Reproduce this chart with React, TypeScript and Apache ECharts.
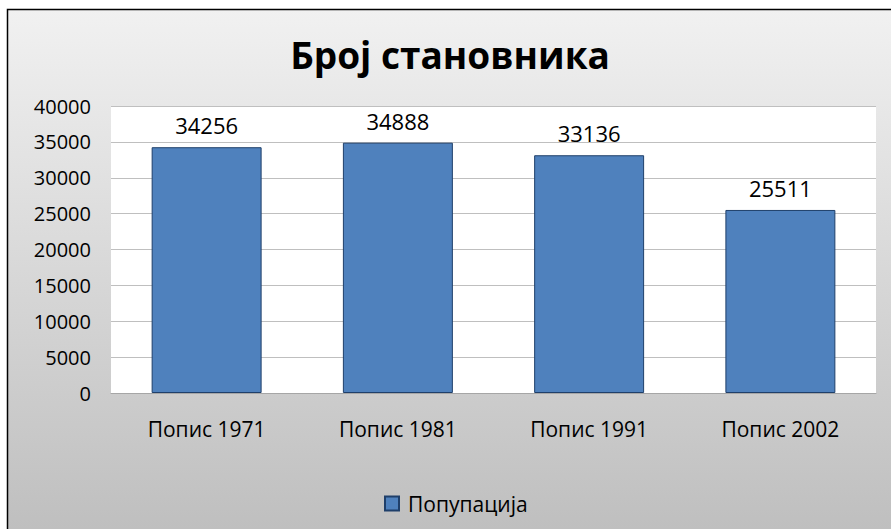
import React, { useEffect, useRef } from "react";
import * as echarts from "echarts";

const titleText = "Број становника";
const seriesName = "Попупација";
const categories = ["Попис 1971", "Попис 1981", "Попис 1991", "Попис 2002"];
const population = [34256, 34888, 33136, 25511];
const yMin = 0;
const yMax = 40000;
const yStep = 5000;

export default function App() {
  const ref = useRef<HTMLDivElement>(null);
  useEffect(() => {
    document.body.style.margin = "0";
    const chart = echarts.init(ref.current!, null, { renderer: "svg" });
    const font = "Open Sans";
    chart.setOption({
      animation: false,
      textStyle: { fontFamily: font },
      graphic: [
        {
          type: "rect",
          z: -10,
          shape: { x: 7.5, y: 9.5, width: 900, height: 540 },
          style: {
            fill: new echarts.graphic.LinearGradient(0, 0, 0, 1, [
              { offset: 0, color: "#f1f1f1" },
              { offset: 1, color: "#bdbdbd" },
            ]),
            stroke: "#000",
            lineWidth: 1.5,
          },
          silent: true,
        },
      ],
      title: {
        text: titleText,
        left: 445,
        textAlign: "center",
        top: 31,
        textStyle: { fontFamily: font, fontSize: 37, fontWeight: "bold", color: "#000" },
      },
      legend: {
        data: [seriesName],
        left: 379,
        top: 488,
        icon: "rect",
        itemWidth: 14,
        itemHeight: 14,
        itemGap: 9,
        textStyle: { fontFamily: font, fontSize: 21, color: "#000", padding: [0, 0, 0, 4] },
      },
      grid: {
        left: 111,
        right: 15,
        top: 106,
        bottom: 136,
        show: true,
        backgroundColor: "#ffffff",
        borderWidth: 0,
      },
      xAxis: {
        type: "category",
        data: categories,
        axisTick: { show: false },
        axisLine: { show: true, lineStyle: { color: "#a6a6a6", width: 1 } },
        axisLabel: { color: "#000", fontSize: 21, margin: 25, fontFamily: font },
      },
      yAxis: {
        type: "value",
        min: yMin,
        max: yMax,
        interval: yStep,
        axisLine: { show: false },
        axisTick: { show: false },
        splitLine: { lineStyle: { color: "#bfbfbf", width: 1 } },
        axisLabel: {
          color: "#000",
          fontSize: 20,
          margin: 20,
          fontFamily: font,
          formatter: (v: number) => String(v),
        },
      },
      series: [
        {
          name: seriesName,
          type: "bar",
          data: population,
          barWidth: "57.5%",
          itemStyle: { color: "#4f81bd", borderColor: "#1f3f6a", borderWidth: 1 },
          label: {
            show: true,
            position: "top",
            distance: 11,
            color: "#000",
            fontSize: 22,
            fontFamily: font,
          },
        },
      ],
    });
    return () => chart.dispose();
  }, []);
  return <div ref={ref} style={{ width: 891, height: 529 }} />;
}
